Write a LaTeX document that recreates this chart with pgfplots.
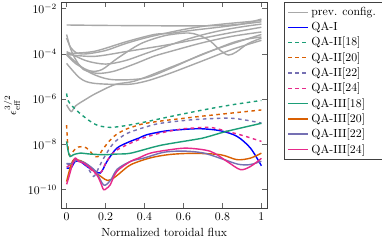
\documentclass[border=0pt]{standalone}
\usepackage{pgfplots}
\pgfplotsset{compat=1.18}
\definecolor{dgreen}{HTML}{1B9E77}
\definecolor{dorange}{HTML}{D95F02}
\definecolor{dpurple}{HTML}{7570B3}
\definecolor{dpink}{HTML}{E7298A}
\definecolor{prevgray}{gray}{0.66}
\begin{document}
\begin{tikzpicture}
\begin{axis}[
  scale only axis,
  width=175pt, height=175pt,
  ymode=log,
  xmin=-0.028, xmax=1.03,
  ymin=1.445e-11, ymax=1.905e-2,
  xtick={0,0.2,0.4,0.6,0.8,1},
  ytick={1e-10,1e-8,1e-6,1e-4,1e-2},
  yminorticks=false,
  axis line style={black!75},
  every tick/.style={black!60},
  xlabel={Normalized toroidal flux},
  ylabel={$\epsilon_{\mathrm{eff}}^{3/2}$},
  legend cell align=left,
  legend style={at={(rel axis cs:1,1)}, anchor=north west, xshift=14pt, draw=black!75},
  every axis plot/.append style={line width=1.2pt, smooth, tension=0.5},
]
% previous configurations
\addplot[prevgray] coordinates {(0,1.905e-3)(0.2,1.82e-3)(0.4,1.778e-3)(0.6,1.738e-3)(0.8,1.82e-3)(0.9,2.089e-3)(1,2.63e-3)};
\addlegendentry{prev. config.}
\addplot[prevgray, forget plot] coordinates {(0,7.244e-4)(0.02,1.738e-4)(0.046,5.754e-5)(0.087,2.042e-5)(0.159,1.380e-5)(0.241,1.698e-5)(0.344,3.467e-5)(0.446,7.762e-5)(0.533,1.288e-4)(0.7,3.162e-4)(0.85,6.026e-4)(1,9.333e-4)};
\addplot[prevgray, forget plot] coordinates {(0,1.047e-4)(0.14,1.288e-4)(0.31,3.548e-4)(0.45,7.244e-4)(0.53,8.128e-4)(0.65,1.122e-3)(0.8,1.585e-3)(0.9,2.089e-3)(1,3.467e-3)};
\addplot[prevgray, forget plot] coordinates {(0,9.55e-5)(0.14,7.762e-5)(0.31,1.288e-4)(0.53,2.63e-4)(0.7,5.012e-4)(0.85,8.913e-4)(1,1.514e-3)};
\addplot[prevgray, forget plot] coordinates {(0,8.913e-5)(0.05,3.548e-5)(0.12,1.778e-5)(0.18,1.995e-5)(0.26,6.31e-5)(0.38,2.818e-4)(0.5,6.31e-4)(0.6,8.318e-4)(0.65,7.943e-4)(0.7,5.623e-4)(0.74,3.548e-4)(0.79,1.413e-4)(0.83,8.913e-5)(0.87,1.202e-4)(0.93,2.818e-4)(1,5.012e-4)};
\addplot[prevgray, forget plot] coordinates {(0,3.802e-5)(0.07,8.318e-6)(0.14,5.012e-6)(0.31,4.467e-6)(0.41,6.31e-6)(0.53,1.38e-5)(0.7,5.012e-5)(0.85,1.585e-4)(1,3.981e-4)};
\addplot[prevgray, forget plot] coordinates {(0,1e-4)(0.108,1.698e-5)(0.226,7.413e-6)(0.395,8.318e-6)(0.533,2.291e-5)(0.7,1e-4)(0.85,2.818e-4)(1,7.244e-4)};
\addplot[prevgray, forget plot] coordinates {(0,5.623e-7)(0.024,2.818e-7)(0.046,5.012e-7)(0.1,1e-6)(0.15,1.778e-6)(0.25,4.467e-6)(0.35,6.31e-6)(0.52,2.291e-5)(0.7,9.55e-5)(0.87,3.548e-4)(1,5.623e-4)};
\addplot[prevgray, forget plot] coordinates {(0,5.012e-4)(0.02,1.995e-4)(0.05,1.122e-4)(0.1,1e-4)(0.2,1.413e-4)(0.3,2.818e-4)(0.4,5.012e-4)(0.5,7.943e-4)(0.6,1.202e-3)(0.7,1.66e-3)(0.8,2.089e-3)(0.9,2.512e-3)(1,3.02e-3)};
\addplot[prevgray, forget plot] coordinates {(0,1.259e-4)(0.1,5.012e-5)(0.2,3.548e-5)(0.3,5.012e-5)(0.4,1e-4)(0.5,1.995e-4)(0.6,3.981e-4)(0.7,7.079e-4)(0.8,1.122e-3)(0.9,1.585e-3)(1,2.089e-3)};
% QA-I
\addplot[blue] coordinates {(0,8.913e-10)(0.015,8.913e-10)(0.027,1e-9)(0.044,1.738e-9)(0.07,1.738e-9)(0.104,1.047e-9)(0.147,6.31e-10)(0.173,5.37e-10)(0.19,8.913e-10)(0.207,1.738e-9)(0.258,6.761e-9)(0.327,1.349e-8)(0.37,1.862e-8)(0.41,2.63e-8)(0.5,3.802e-8)(0.585,4.467e-8)(0.687,4.898e-8)(0.79,3.981e-8)(0.875,2.239e-8)(0.944,6.761e-9)(1,1.122e-9)};
\addlegendentry{QA-I}
% QA-II
\addplot[dgreen, dashed] coordinates {(0,1.778e-6)(0.01,7.943e-7)(0.046,3.467e-7)(0.108,1.259e-7)(0.159,6.918e-8)(0.226,5.623e-8)(0.313,6.918e-8)(0.415,1.023e-7)(0.533,1.698e-7)(0.7,3.311e-7)(0.85,5.623e-7)(1,8.71e-7)};
\addlegendentry{QA-II[18]}
\addplot[dorange, dashed] coordinates {(0,7.079e-8)(0.005,1.259e-8)(0.012,3.548e-9)(0.02,3.548e-9)(0.04,5.623e-9)(0.06,7.586e-9)(0.08,7.943e-9)(0.1,7.079e-9)(0.12,5.012e-9)(0.14,3.162e-9)(0.16,2.818e-9)(0.18,5.012e-9)(0.21,1.122e-8)(0.25,2.512e-8)(0.3,4.467e-8)(0.35,6.31e-8)(0.4,8.318e-8)(0.5,1.122e-7)(0.6,1.413e-7)(0.7,1.778e-7)(0.8,2.188e-7)(0.9,2.692e-7)(1,3.311e-7)};
\addlegendentry{QA-II[20]}
\addplot[dpurple, dashed] coordinates {(0,1.413e-9)(0.02,1.259e-9)(0.04,1.778e-9)(0.07,1.905e-9)(0.1,1.259e-9)(0.12,6.31e-10)(0.138,3.802e-10)(0.15,5.012e-10)(0.17,1.122e-9)(0.19,2.399e-9)(0.24,1.096e-8)(0.31,3.02e-8)(0.415,6.166e-8)(0.49,8.71e-8)(0.65,1.23e-7)(0.82,1.445e-7)(0.9,1.259e-7)(1,8.71e-8)};
\addlegendentry{QA-II[22]}
\addplot[dpink, dashed] coordinates {(0,1e-9)(0.02,1.259e-9)(0.04,1.995e-9)(0.07,1.778e-9)(0.1,1.259e-9)(0.13,7.079e-10)(0.16,4.467e-10)(0.18,6.31e-10)(0.205,1.738e-9)(0.25,5.012e-9)(0.328,1.122e-8)(0.4,1.995e-8)(0.482,3.162e-8)(0.585,4.677e-8)(0.65,5.248e-8)(0.738,5.623e-8)(0.824,3.715e-8)(0.9,2.512e-8)(1,1.349e-8)};
\addlegendentry{QA-II[24]}
% QA-III
\addplot[dgreen] coordinates {(0,1.349e-8)(0.008,5.012e-9)(0.018,2.884e-9)(0.035,3.467e-9)(0.07,4.074e-9)(0.12,3.715e-9)(0.19,3.467e-9)(0.26,3.715e-9)(0.33,4.074e-9)(0.48,8.913e-9)(0.65,1.585e-8)(0.71,1.995e-8)(0.82,3.715e-8)(1,8.511e-8)};
\addlegendentry{QA-III[18]}
\addplot[dorange] coordinates {(0,2.239e-10)(0.01,5.012e-10)(0.025,1.413e-9)(0.04,2.239e-9)(0.06,1.995e-9)(0.09,1.585e-9)(0.12,1e-9)(0.15,5.623e-10)(0.18,3.548e-10)(0.21,2.512e-10)(0.24,3.162e-10)(0.27,5.012e-10)(0.33,1.259e-9)(0.43,2.512e-9)(0.53,3.548e-9)(0.65,3.981e-9)(0.79,3.467e-9)(0.875,2.089e-9)(0.944,2.455e-9)(1,4.074e-9)};
\addlegendentry{QA-III[20]}
\addplot[dpurple] coordinates {(0,1.413e-9)(0.027,1.413e-9)(0.044,1.995e-9)(0.07,1.778e-9)(0.1,1.413e-9)(0.15,6.31e-10)(0.19,1.585e-10)(0.225,2.512e-10)(0.26,7.943e-10)(0.33,1.778e-9)(0.4,2.512e-9)(0.5,4.467e-9)(0.6,5.012e-9)(0.7,4.169e-9)(0.8,2.239e-9)(0.88,1.318e-9)(0.94,1.259e-9)(1,1.778e-9)};
\addlegendentry{QA-III[22]}
\addplot[dpink] coordinates {(0,1.698e-10)(0.01,3.162e-10)(0.027,1.047e-9)(0.044,2.455e-9)(0.062,1.738e-9)(0.087,1.479e-9)(0.121,8.913e-10)(0.155,4.467e-10)(0.175,1.995e-10)(0.19,9.772e-11)(0.205,1.122e-10)(0.224,1.622e-10)(0.258,6.31e-10)(0.327,1.738e-9)(0.369,2.455e-9)(0.43,4.074e-9)(0.53,5.754e-9)(0.619,6.761e-9)(0.738,4.898e-9)(0.824,1.738e-9)(0.892,7.586e-10)(0.944,1.047e-9)(1,2.399e-9)};
\addlegendentry{QA-III[24]}
\end{axis}
\end{tikzpicture}
\end{document}
